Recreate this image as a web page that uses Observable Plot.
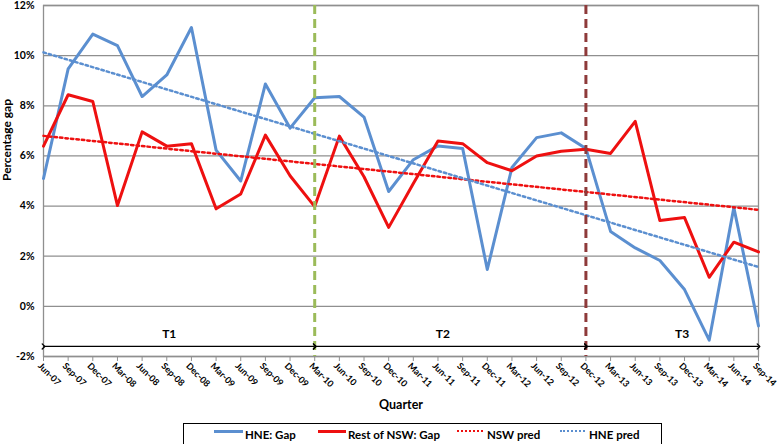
<!DOCTYPE html>
<html><head><meta charset="utf-8">
<script src="https://cdn.jsdelivr.net/npm/d3@7"></script>
<script src="https://cdn.jsdelivr.net/npm/@observablehq/plot@0.6"></script>
<style>
body{margin:0;background:#fff;font-family:Lato,"Open Sans",sans-serif;}
#wrap{position:relative;width:778px;height:444px;overflow:hidden;}
#chart{position:absolute;left:0;top:0;}
#chart svg{overflow:visible;}
#legend{position:absolute;left:183px;top:423px;width:479px;height:24px;border:1px solid #000;box-sizing:border-box;font-size:11.5px;font-weight:bold;color:#000;}
.item{position:absolute;top:4px;white-space:nowrap;}
.sw{position:absolute;top:6px;height:0;}
</style>
</head><body>
<div id="wrap"><div id="chart"></div><div id="legend"></div></div>
<script>
const quarters = ["Jun-07","Sep-07","Dec-07","Mar-08","Jun-08","Sep-08","Dec-08","Mar-09","Jun-09","Sep-09","Dec-09","Mar-10","Jun-10","Sep-10","Dec-10","Mar-11","Jun-11","Sep-11","Dec-11","Mar-12","Jun-12","Sep-12","Dec-12","Mar-13","Jun-13","Sep-13","Dec-13","Mar-14","Jun-14","Sep-14"];
const hneGap = [5.1,9.47,10.86,10.4,8.37,9.23,11.12,6.23,5.0,8.87,7.11,8.32,8.37,7.55,4.58,5.85,6.4,6.3,1.47,5.54,6.73,6.92,6.3,2.99,2.33,1.83,0.67,-1.35,3.94,-0.78];
const nswGap = [6.39,8.44,8.17,4.02,6.96,6.39,6.49,3.89,4.48,6.83,5.21,3.98,6.79,5.17,3.15,4.9,6.6,6.49,5.73,5.41,6.0,6.19,6.27,6.1,7.38,3.42,3.54,1.16,2.56,2.17];
const predQuarters = ["Jun-07","Sep-14"];
const nswPred = [6.8,3.85];
const hnePred = [10.13,1.57];
const yTicks = [-2,0,2,4,6,8,10,12];
const phases = ["T1","T2","T3"];
const phaseFrom = ["Jun-07","Mar-10","Dec-12"];
const phaseTo = ["Mar-10","Dec-12","Sep-14"];
const phaseLabelAt = [5.1,16.2,25.9];
const cutQuarters = ["Mar-10","Dec-12"];
const seriesNames = ["HNE: Gap","Rest of NSW: Gap","NSW pred","HNE pred"];

const BLUE = "#5b8fd0", RED = "#ee1010", GRID = "#8f8f8f";
const idx = q => quarters.indexOf(q);
const seq = quarters.map((q,i)=>i);

const chart = Plot.plot({
  width: 778, height: 423,
  marginLeft: 43, marginRight: 20, marginTop: 5, marginBottom: 67,
  style: {fontFamily: "Lato, 'Open Sans', sans-serif", fontWeight: "bold", color: "#000", background: "#fff", overflow: "visible"},
  x: {domain: [0, quarters.length-1]},
  y: {domain: [-2, 12]},
  marks: [
    Plot.gridY(yTicks, {stroke: GRID, strokeOpacity: 1, strokeWidth: 1.3}),
    Plot.frame({stroke: GRID, strokeWidth: 1.3}),
    Plot.axisX(seq, {tickSize: 5, tickFormat: () => "", stroke: GRID, label: null}),
    Plot.axisX(seq, {tickFormat: i => quarters[i], tickRotate: 45, tickSize: 0, tickPadding: 8, dx: -4, fontSize: 9, fontWeight: "bold", label: null}),
    Plot.axisY(yTicks, {tickFormat: d => d + "%", tickSize: 0, tickPadding: 9, fontSize: 10.5, fontWeight: "bold", label: null}),
    Plot.text(["Percentage gap"], {frameAnchor: "left", rotate: -90, dx: -36, text: d => d, fontSize: 12, fontWeight: "bold"}),
    Plot.text(["Quarter"], {frameAnchor: "bottom", dy: 52, text: d => d, fontSize: 12.5, fontWeight: "bold"}),
    Plot.lineY(hneGap, {x: (d,i) => i, y: d => d, stroke: BLUE, strokeWidth: 3}),
    Plot.lineY(nswGap, {x: (d,i) => i, y: d => d, stroke: RED, strokeWidth: 3}),
    Plot.lineY(nswPred, {x: (d,i) => idx(predQuarters[i]), y: d => d, stroke: RED, strokeWidth: 2.5, strokeDasharray: "2.5,3"}),
    Plot.lineY(hnePred, {x: (d,i) => idx(predQuarters[i]), y: d => d, stroke: BLUE, strokeWidth: 2.5, strokeDasharray: "2.5,3"}),
    Plot.ruleX([cutQuarters[0]], {x: q => idx(q), stroke: "#9bbb59", strokeWidth: 3, strokeDasharray: "9,5"}),
    Plot.ruleX([cutQuarters[1]], {x: q => idx(q), stroke: "#8e3a3a", strokeWidth: 3, strokeDasharray: "9,5"}),
    Plot.link(phases, {x1: (d,i) => idx(phaseFrom[i]), x2: (d,i) => idx(phaseTo[i]), y1: -1.6, y2: -1.6, stroke: "#000", strokeWidth: 1.3, markerStart: "arrow", markerEnd: "arrow"}),
    Plot.text(phases, {x: (d,i) => phaseLabelAt[i], y: -1.1, text: d => d, fontSize: 12, fontWeight: "bold"})
  ]
});
document.getElementById("chart").appendChild(chart);

const legend = document.getElementById("legend");
const legendStyles = [
  {color: BLUE, style: "solid", w: 3, swLeft: 30, swW: 29, txt: 61},
  {color: RED, style: "solid", w: 3, swLeft: 134, swW: 28, txt: 164},
  {color: RED, style: "dotted", w: 2.5, swLeft: 273, swW: 26, txt: 303},
  {color: BLUE, style: "dotted", w: 2.5, swLeft: 376, swW: 25, txt: 405}
];
seriesNames.forEach((name, i) => {
  const s = legendStyles[i];
  const sw = document.createElement("div");
  sw.className = "sw";
  sw.style.left = s.swLeft + "px";
  sw.style.width = s.swW + "px";
  sw.style.borderTop = `${s.w}px ${s.style} ${s.color}`;
  legend.appendChild(sw);
  const t = document.createElement("div");
  t.className = "item";
  t.style.left = s.txt + "px";
  t.textContent = name;
  legend.appendChild(t);
});
</script>
</body></html>
